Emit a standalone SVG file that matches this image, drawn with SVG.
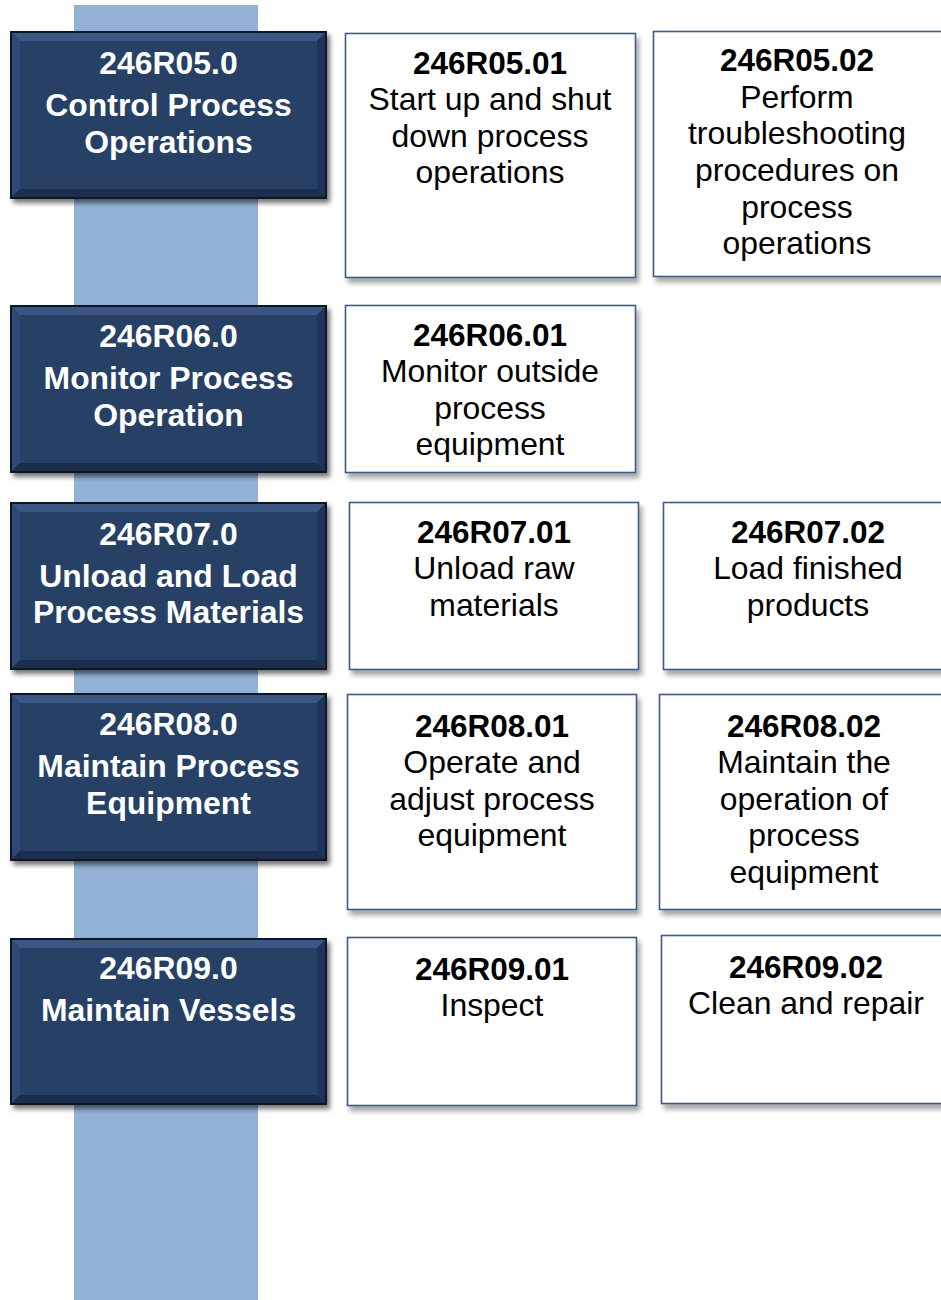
<svg xmlns="http://www.w3.org/2000/svg" width="941" height="1300" viewBox="0 0 941 1300">
<style>
.lt{font-family:"Liberation Sans",Arial,sans-serif;font-weight:bold;font-size:31.9px;fill:#ffffff;text-anchor:middle}
.rt{font-family:"Liberation Sans",Arial,sans-serif;font-size:31.9px;fill:#000000;text-anchor:middle}
.rt .b{font-weight:bold;font-size:31.5px}
.card{fill:#ffffff;stroke:#3e5a88;stroke-width:1.6}
.outer{fill:#263f66;stroke:#0b1220;stroke-width:2}
.bt{fill:#3a5682}
.bl{fill:#2f4a74}
.bb{fill:#1a2e4e}
.br{fill:#1f355a}
</style>
<defs>
<filter id="sh" x="-10%" y="-10%" width="125%" height="130%">
<feDropShadow dx="3" dy="4" stdDeviation="2.5" flood-color="#000" flood-opacity="0.55"/>
</filter>
<filter id="sh2" x="-10%" y="-10%" width="125%" height="130%">
<feDropShadow dx="3" dy="5" stdDeviation="2.5" flood-color="#000" flood-opacity="0.35"/>
</filter>
</defs>
<rect id="spine" x="74" y="5" width="184" height="1295" fill="#94b2d8"/>

<g id="n05" filter="url(#sh)">
<rect class="outer" x="11" y="32" width="315" height="166"/>
<polygon class="bt" points="12,33 325,33 317,41 20,41"/>
<polygon class="bl" points="12,33 20,41 20,189 12,197"/>
<polygon class="bb" points="12,197 20,189 317,189 325,197"/>
<polygon class="br" points="325,33 317,41 317,189 325,197"/>
</g>
<text class="lt" x="168.5" y="74">246R05.0</text>
<text class="lt" x="168.5" y="116">Control Process</text>
<text class="lt" x="168.5" y="153">Operations</text>

<g id="n06" filter="url(#sh)">
<rect class="outer" x="11" y="306" width="315" height="166"/>
<polygon class="bt" points="12,307 325,307 317,315 20,315"/>
<polygon class="bl" points="12,307 20,315 20,463 12,471"/>
<polygon class="bb" points="12,471 20,463 317,463 325,471"/>
<polygon class="br" points="325,307 317,315 317,463 325,471"/>
</g>
<text class="lt" x="168.5" y="347">246R06.0</text>
<text class="lt" x="168.5" y="389">Monitor Process</text>
<text class="lt" x="168.5" y="426">Operation</text>

<g id="n07" filter="url(#sh)">
<rect class="outer" x="11" y="503" width="315" height="166"/>
<polygon class="bt" points="12,504 325,504 317,512 20,512"/>
<polygon class="bl" points="12,504 20,512 20,660 12,668"/>
<polygon class="bb" points="12,668 20,660 317,660 325,668"/>
<polygon class="br" points="325,504 317,512 317,660 325,668"/>
</g>
<text class="lt" x="168.5" y="545">246R07.0</text>
<text class="lt" x="168.5" y="587">Unload and Load</text>
<text class="lt" x="168.5" y="623">Process Materials</text>

<g id="n08" filter="url(#sh)">
<rect class="outer" x="11" y="694" width="315" height="166"/>
<polygon class="bt" points="12,695 325,695 317,703 20,703"/>
<polygon class="bl" points="12,695 20,703 20,851 12,859"/>
<polygon class="bb" points="12,859 20,851 317,851 325,859"/>
<polygon class="br" points="325,695 317,703 317,851 325,859"/>
</g>
<text class="lt" x="168.5" y="735">246R08.0</text>
<text class="lt" x="168.5" y="777">Maintain Process</text>
<text class="lt" x="168.5" y="814">Equipment</text>

<g id="n09" filter="url(#sh)">
<rect class="outer" x="11" y="939" width="315" height="165"/>
<polygon class="bt" points="12,940 325,940 317,948 20,948"/>
<polygon class="bl" points="12,940 20,948 20,1095 12,1103"/>
<polygon class="bb" points="12,1103 20,1095 317,1095 325,1103"/>
<polygon class="br" points="325,940 317,948 317,1095 325,1103"/>
</g>
<text class="lt" x="168.5" y="979">246R09.0</text>
<text class="lt" x="168.5" y="1021">Maintain Vessels</text>

<g id="n0501">
<rect class="card" filter="url(#sh2)" x="345.5" y="33.5" width="290" height="244"/>
<text class="rt" x="490" y="74"><tspan class="b">246R05.01</tspan><tspan x="490" y="110">Start up and shut</tspan><tspan x="490" y="147">down process</tspan><tspan x="490" y="183">operations</tspan></text>
</g>
<g id="n0502">
<rect class="card" filter="url(#sh2)" x="653.5" y="31.5" width="290" height="245"/>
<text class="rt" x="797" y="71"><tspan class="b">246R05.02</tspan><tspan x="797" y="108">Perform</tspan><tspan x="797" y="144">troubleshooting</tspan><tspan x="797" y="181">procedures on</tspan><tspan x="797" y="218">process</tspan><tspan x="797" y="254">operations</tspan></text>
</g>
<g id="n0601">
<rect class="card" filter="url(#sh2)" x="345.5" y="305.5" width="290" height="167"/>
<text class="rt" x="490" y="346"><tspan class="b">246R06.01</tspan><tspan x="490" y="382">Monitor outside</tspan><tspan x="490" y="419">process</tspan><tspan x="490" y="455">equipment</tspan></text>
</g>
<g id="n0701">
<rect class="card" filter="url(#sh2)" x="349.5" y="502.5" width="289" height="167"/>
<text class="rt" x="494" y="543"><tspan class="b">246R07.01</tspan><tspan x="494" y="579">Unload raw</tspan><tspan x="494" y="616">materials</tspan></text>
</g>
<g id="n0702">
<rect class="card" filter="url(#sh2)" x="663.5" y="502.5" width="290" height="167"/>
<text class="rt" x="808" y="543"><tspan class="b">246R07.02</tspan><tspan x="808" y="579">Load finished</tspan><tspan x="808" y="616">products</tspan></text>
</g>
<g id="n0801">
<rect class="card" filter="url(#sh2)" x="347.5" y="694.5" width="289" height="215"/>
<text class="rt" x="492" y="737"><tspan class="b">246R08.01</tspan><tspan x="492" y="773">Operate and</tspan><tspan x="492" y="810">adjust process</tspan><tspan x="492" y="846">equipment</tspan></text>
</g>
<g id="n0802">
<rect class="card" filter="url(#sh2)" x="659.5" y="694.5" width="290" height="215"/>
<text class="rt" x="804" y="737"><tspan class="b">246R08.02</tspan><tspan x="804" y="773">Maintain the</tspan><tspan x="804" y="810">operation of</tspan><tspan x="804" y="846">process</tspan><tspan x="804" y="883">equipment</tspan></text>
</g>
<g id="n0901">
<rect class="card" filter="url(#sh2)" x="347.5" y="937.5" width="289" height="168"/>
<text class="rt" x="492" y="980"><tspan class="b">246R09.01</tspan><tspan x="492" y="1016">Inspect</tspan></text>
</g>
<g id="n0902">
<rect class="card" filter="url(#sh2)" x="661.5" y="935.5" width="290" height="168"/>
<text class="rt" x="806" y="978"><tspan class="b">246R09.02</tspan><tspan x="806" y="1014">Clean and repair</tspan></text>
</g>
<g id="connectors"></g>
</svg>
